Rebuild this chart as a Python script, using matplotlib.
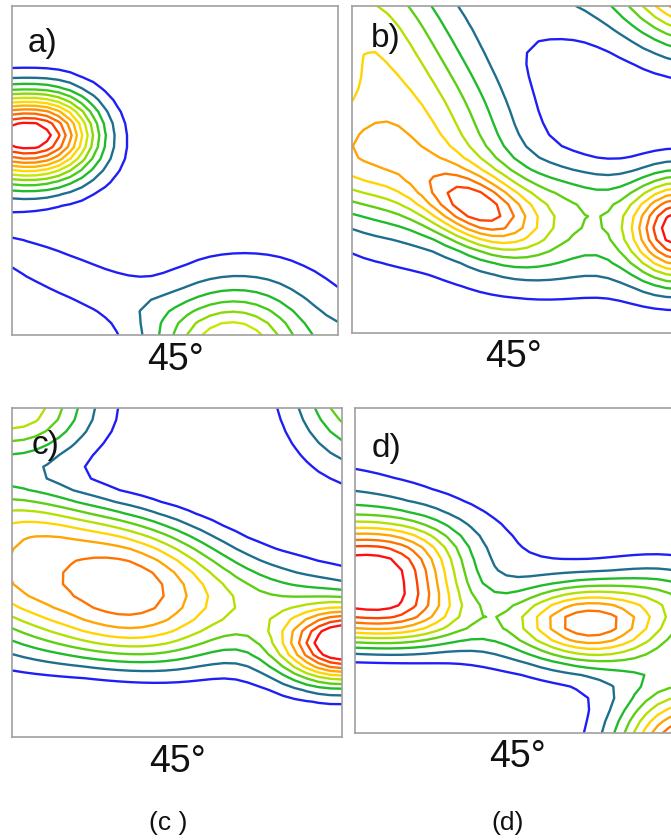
import numpy as np
import matplotlib
matplotlib.use("Agg")
import matplotlib.pyplot as plt

plt.rcParams['font.family'] = ['Liberation Sans', 'DejaVu Sans']

# contour colours (low -> high); panel a uses 12 levels, the others 10
colors12 = ['#1f1ff5', '#1e6e8e', '#20bb2a', '#44cc18', '#88da00', '#c8e600',
            '#ffd800', '#ffb400', '#ff8c00', '#ff6a00', '#ff4000', '#ff1010']
colors10 = ['#1f1ff5', '#1e6e8e', '#20bb2a', '#5ccf12', '#b4e000', '#ffd400',
            '#ffa400', '#ff7400', '#ff4200', '#ff1010']
n_levels = [12, 10, 10, 10]

# peak components of each panel (panel units 0..100, y upward)
a_cx = [4.5, 5, 15, 67, 75, 105]
a_cy = [62.3, 53, 19, -5, -2, -5]
a_amp = [11, 3.5, 1.5, 5.5, 1.9, 1.2]
a_sx = [15.5, 15, 25, 15, 25, 8]
a_sy = [8.5, 8.5, 6, 12, 20, 8]
a_ang = [0, 0, -22, 0, 0, 0]
a_qu = [2.5, 2, 2, 2, 2, 2]
a_qv = [2, 2, 2, 2, 2, 2]

b_cx = [11, -5, 39, 58, 101, 108, 62, 55, 70]
b_cy = [76, 53, 37.5, 36, 32, 112, 106, 20, 42]
b_amp = [6.0, 3.5, 6.2, 3, 10.4, 11, 1.5, 1.2, 1.2]
b_sx = [36, 15, 13, 22, 11, 18, 14, 30, 15]
b_sy = [20, 11.5, 7.5, 11, 11, 16, 12, 10, 8]
b_ang = [-60, 0, -25, -10, 0, 0, 0, 0, 0]
b_qu = [4, 2, 2, 2, 2, 2, 2, 2, 2]
b_qv = [2, 2, 2, 2, 2, 2, 2, 2, 2]

c_cx = [18, 36, 0, 75, 102, 108, 15]
c_cy = [50, 46, 101, 40, 28, 108, 27]
c_amp = [7.6, 0.8, 6.0, 3.5, 11, 6, 1.4]
c_sx = [34, 13, 17, 25, 14, 15, 30]
c_sy = [17, 7.5, 12, 10, 8, 17, 7]
c_ang = [-12, -8, 0, -5, 5, 0, 0]
c_qu = [3, 2, 2, 2, 2, 2, 2]
c_qv = [3, 2, 2, 2, 2, 2, 2]

d_cx = [-2, 0, 45, 71, 95, 102]
d_cy = [45.5, 66, 33, 34.2, 40, -6]
d_amp = [9.5, 2.5, 2.6, 6.4, 3.5, 10]
d_sx = [25, 35, 35, 14, 15, 15]
d_sy = [14, 11, 9, 8, 9, 14]
d_ang = [0, -12, -10, -5, 0, 0]
d_qu = [3, 2, 2, 2, 2, 2]
d_qv = [3, 2, 2, 2, 2, 2]

panel_letters = ['a)', 'b)', 'c)', 'd)']
angle_label = '45°'
sub_captions = ['(c )', '(d)']

W, H = 671, 840
fig = plt.figure(figsize=(W / 100, H / 100), dpi=100)


def field(X, Y, cx, cy, amp, sx, sy, ang, qu, qv):
    Z = np.zeros_like(X)
    for x0, y0, A, s1, s2, t, e1, e2 in zip(cx, cy, amp, sx, sy, ang, qu, qv):
        th = np.radians(t)
        dx, dy = X - x0, Y - y0
        u = dx * np.cos(th) + dy * np.sin(th)
        v = -dx * np.sin(th) + dy * np.cos(th)
        Z += A * np.exp(-0.5 * (np.abs(u / s1) ** e1 + np.abs(v / s2) ** e2))
    return Z


gx = np.linspace(0, 100, 29)
gy = np.linspace(0, 100, 29)
X, Y = np.meshgrid(gx, gy)

# axes boxes in pixels: left, top, right, bottom
boxes = [(12, 6, 338, 335), (352, 6, 678, 333), (12, 408, 342, 737), (355, 408, 681, 733)]
params = [(a_cx, a_cy, a_amp, a_sx, a_sy, a_ang, a_qu, a_qv),
          (b_cx, b_cy, b_amp, b_sx, b_sy, b_ang, b_qu, b_qv),
          (c_cx, c_cy, c_amp, c_sx, c_sy, c_ang, c_qu, c_qv),
          (d_cx, d_cy, d_amp, d_sx, d_sy, d_ang, d_qu, d_qv)]
letter_pos = [(28, 52), (371, 47), (32, 454), (372, 457)]
label_pos = [(175, 360), (514, 357), (177, 762), (517, 757)]

for i, ((l, t, r, b), p) in enumerate(zip(boxes, params)):
    ax = fig.add_axes([l / W, 1 - b / H, (r - l) / W, (b - t) / H])
    Z = field(X, Y, *p)
    n = n_levels[i]
    cols = colors12 if n == 12 else colors10
    ax.contour(X, Y, Z, levels=list(range(1, n + 1)), colors=cols, linewidths=1.7)
    ax.set_xlim(0, 100)
    ax.set_ylim(0, 100)
    ax.set_xticks([])
    ax.set_yticks([])
    for s in ax.spines.values():
        s.set_color('#a0a0a0')
        s.set_linewidth(1.2)
    fig.text(letter_pos[i][0] / W, 1 - letter_pos[i][1] / H, panel_letters[i],
             fontsize=24, ha='left', va='baseline', color='#111111')
    fig.text(label_pos[i][0] / W, 1 - label_pos[i][1] / H, angle_label,
             fontsize=27, ha='center', va='center', color='#111111')

fig.text(168 / W, 1 - 823 / H, sub_captions[0], fontsize=19, ha='center', va='center', color='#111111')
fig.text(508 / W, 1 - 823 / H, sub_captions[1], fontsize=19, ha='center', va='center', color='#111111')

fig.savefig('out.png', dpi=100)
